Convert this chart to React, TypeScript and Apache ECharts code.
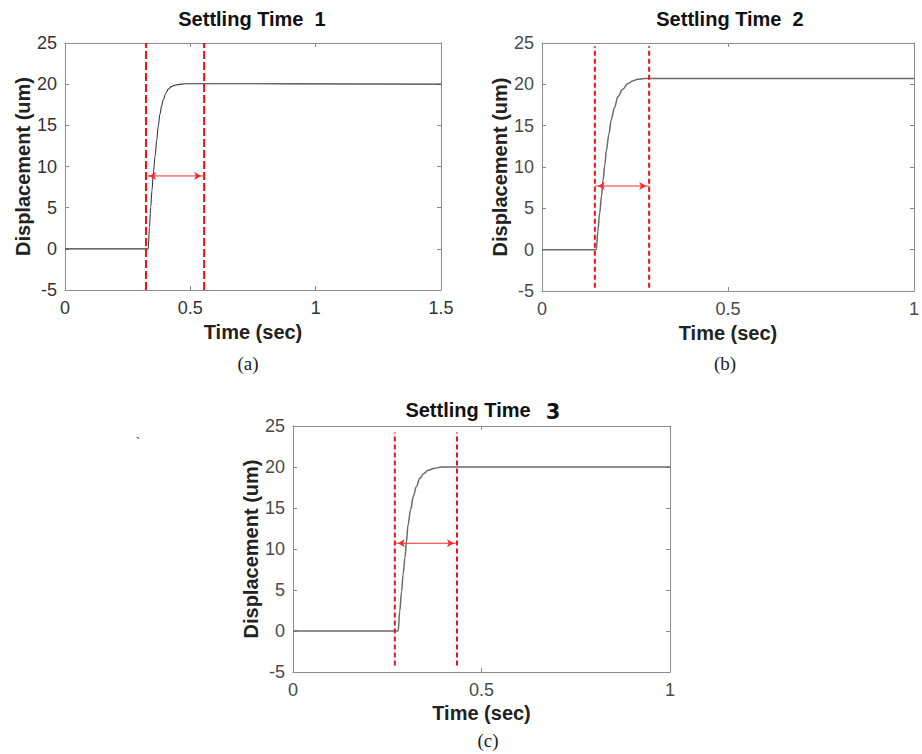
import React, { useEffect, useRef } from "react";
import * as echarts from "echarts";

// ---- data ----
const titles = ["Settling Time  1", "Settling Time  2", "Settling Time"];
const captions = ["(a)", "(b)", "(c)"];
const xMaxes = [1.5, 1, 1];
const yTicks = [-5, 0, 5, 10, 15, 20, 25];

const timeA = [0, 0.332, 0.337, 0.342, 0.347, 0.352, 0.359, 0.366, 0.372, 0.379, 0.385, 0.392, 0.402, 0.412, 0.424, 0.436, 0.45, 0.465, 0.48, 0.5, 0.55, 1.5];
const dispA = [0, 0, 2.6, 5.1, 7.1, 9.0, 11.2, 13.2, 14.9, 16.4, 17.3, 18.1, 18.9, 19.4, 19.7, 19.85, 19.95, 20.0, 20.05, 20.05, 20.05, 20.0];

const timeB = [0, 0.146, 0.15, 0.155, 0.16, 0.164, 0.169, 0.173, 0.18, 0.186, 0.195, 0.204, 0.217, 0.231, 0.244, 0.257, 0.275, 0.293, 1.0];
const dispB = [0, 0, 2.2, 4.4, 6.5, 8.4, 10.3, 12.0, 14.0, 15.7, 17.2, 18.5, 19.4, 20.1, 20.4, 20.6, 20.7, 20.7, 20.7];

const timeC = [0, 0.279, 0.283, 0.288, 0.292, 0.297, 0.301, 0.305, 0.312, 0.319, 0.327, 0.336, 0.347, 0.358, 0.376, 0.394, 0.42, 1.0];
const dispC = [0, 0, 2.4, 4.8, 6.9, 8.9, 10.9, 12.9, 14.8, 16.4, 17.6, 18.6, 19.2, 19.6, 19.85, 20.0, 20.0, 20.0];

const settleTimes = [
  [0.323, 0.555],
  [0.142, 0.288],
  [0.27, 0.435],
];
const settleSpan = [
  [-5, 25],
  [-4.6, 24.6],
  [-4.2, 24.2],
];
const arrowLevels = [8.85, 7.7, 10.7];

const curves = [
  [timeA, dispA],
  [timeB, dispB],
  [timeC, dispC],
];

// ---- layout ----
const grids = [
  { left: 65, top: 43, width: 376, height: 247 },
  { left: 542, top: 43, width: 375, height: 248 },
  { left: 293, top: 426, width: 377, height: 246 },
];
const labelColors = ["#333333", "#4a4a4a", "#4a4a4a"];
const curveColors = ["#3a3a3a", "#6a6a6a", "#6a6a6a"];
const dashes = [[8, 3], [5, 3], [5, 3]];
const RED = "#ee1111";
const ARROW_RED = "#ff2a2a";
const FONT = '"Liberation Sans", Arial, sans-serif';

export default function App() {
  const ref = useRef<HTMLDivElement>(null);
  useEffect(() => {
    if (!ref.current) return;
    const chart = echarts.init(ref.current, null, { renderer: "svg" });
    const xAxis: any[] = [];
    const yAxis: any[] = [];
    const series: any[] = [];
    const graphic: any[] = [];
    grids.forEach((g, i) => {
      const axisLine = { show: true, onZero: false, lineStyle: { color: "#8c8c8c", width: 1 } };
      const axisTick = { show: true, inside: true, length: 4, lineStyle: { color: "#8c8c8c" } };
      const labelStyle = { fontFamily: FONT, fontSize: 18, color: labelColors[i] };
      const nameStyle = { fontFamily: FONT, fontSize: 20, fontWeight: "bold", color: "#222" };
      xAxis.push({
        gridIndex: i, type: "value", position: "bottom", min: 0, max: xMaxes[i], interval: 0.5,
        axisLine, axisTick, splitLine: { show: false },
        axisLabel: { ...labelStyle, margin: 9 },
        name: "Time (sec)", nameLocation: "middle", nameGap: i === 2 ? 31 : 32, nameTextStyle: nameStyle,
      });
      xAxis.push({
        gridIndex: i, type: "value", position: "top", min: 0, max: xMaxes[i], interval: 0.5,
        axisLine, axisTick, splitLine: { show: false }, axisLabel: { show: false },
      });
      yAxis.push({
        gridIndex: i, type: "value", position: "left", min: yTicks[0], max: yTicks[yTicks.length - 1], interval: 5,
        axisLine, axisTick, splitLine: { show: false },
        axisLabel: { ...labelStyle, margin: 8 },
        name: "Displacement (um)", nameLocation: "middle", nameGap: i === 2 ? 31 : 32, nameTextStyle: nameStyle,
      });
      yAxis.push({
        gridIndex: i, type: "value", position: "right", min: yTicks[0], max: yTicks[yTicks.length - 1], interval: 5,
        axisLine, axisTick, splitLine: { show: false }, axisLabel: { show: false },
      });
      const [ts, vs] = curves[i];
      series.push({
        type: "line", xAxisIndex: i * 2, yAxisIndex: i * 2,
        data: ts.map((t, k) => [t, vs[k]]),
        showSymbol: false, smooth: 0.35, smoothMonotone: "x",
        lineStyle: { color: curveColors[i], width: i === 0 ? 1.1 : 1.5 },
        z: 3,
      });
      settleTimes[i].forEach((t) => {
        series.push({
          type: "line", xAxisIndex: i * 2, yAxisIndex: i * 2,
          data: [[t, settleSpan[i][0]], [t, settleSpan[i][1]]],
          showSymbol: false, silent: true,
          lineStyle: { color: RED, width: 2, type: dashes[i] },
          z: 4,
        });
      });
      // double-headed arrow between the two settling lines
      series.push({
        type: "line", xAxisIndex: i * 2, yAxisIndex: i * 2,
        silent: true, z: 5,
        showSymbol: true, showAllSymbol: true,
        symbol: "arrow", symbolSize: [6, 7],
        itemStyle: { color: ARROW_RED },
        lineStyle: { color: ARROW_RED, width: 1, type: "solid" },
        data: [
          { value: [settleTimes[i][0], arrowLevels[i]], symbolRotate: 90, symbolOffset: [3, 0] },
          { value: [settleTimes[i][1], arrowLevels[i]], symbolRotate: -90, symbolOffset: [-3, 0] },
        ],
      });
    });
    const txt = (x: number, y: number, text: string, font: string, fill = "#111") => ({
      type: "text", x, y, style: { text, font, fill, align: "center", verticalAlign: "middle" },
    });
    graphic.push(
      txt(252, 19, titles[0], `bold 20px ${FONT}`),
      txt(730, 19, titles[1], `bold 20px ${FONT}`),
      txt(468, 410, titles[2], `bold 20px ${FONT}`),
      txt(553, 412, "3", `bold 21px "DejaVu Sans", sans-serif`),
      txt(248, 363, captions[0], `19px "Liberation Serif", serif`, "#222"),
      txt(725, 363, captions[1], `19px "Liberation Serif", serif`, "#222"),
      txt(488, 740, captions[2], `19px "Liberation Serif", serif`, "#222"),
      txt(138, 443, "`", `14px ${FONT}`, "#333")
    );
    chart.setOption({
      animation: false,
      backgroundColor: "#ffffff",
      grid: grids.map((g) => ({ ...g, containLabel: false })),
      xAxis, yAxis, series, graphic,
    });
    return () => chart.dispose();
  }, []);
  return <div ref={ref} style={{ position: "absolute", left: 0, top: 0, width: 922, height: 754 }} />;
}
